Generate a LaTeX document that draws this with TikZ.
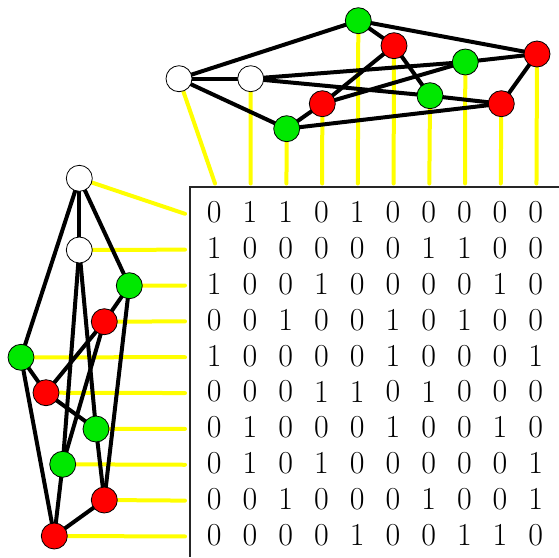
\documentclass[tikz,border=0pt]{standalone}
\usetikzlibrary{calc}
\pgfdeclarelayer{links}
\pgfdeclarelayer{edges}
\pgfsetlayers{links,edges,main}
\definecolor{vgreen}{RGB}{0,232,0}
\definecolor{vred}{RGB}{255,0,0}
\definecolor{vlink}{RGB}{255,255,0}
\tikzset{
  vtx/.style={circle, draw=black, line width=0.8pt, minimum size=26pt, inner sep=0pt},
  white vtx/.style={vtx, fill=white},
  green vtx/.style={vtx, fill=vgreen},
  red vtx/.style={vtx, fill=vred},
  edge/.style={line width=4pt, black},
  link/.style={line width=4pt, vlink, line cap=round},
  entry/.style={inner sep=0pt, anchor=center, font=\fontsize{32}{38}\selectfont},
  frame/.style={line width=1.1pt, black!85}
}
\begin{document}
\begin{tikzpicture}[x=1pt, y=-1pt]
\useasboundingbox (0,0) rectangle (559,557);

% ---- adjacency matrix ----
\draw[frame] (559,187) -- (190,187) -- (190,557);
\foreach \row [count=\r] in {
  {0,1,1,0,1,0,0,0,0,0},
  {1,0,0,0,0,0,1,1,0,0},
  {1,0,0,1,0,0,0,0,1,0},
  {0,0,1,0,0,1,0,1,0,0},
  {1,0,0,0,0,1,0,0,0,1},
  {0,0,0,1,1,0,1,0,0,0},
  {0,1,0,0,0,1,0,0,1,0},
  {0,1,0,1,0,0,0,0,0,1},
  {0,0,1,0,0,0,1,0,0,1},
  {0,0,0,0,1,0,0,1,1,0}} {
  \foreach \v [count=\c] in \row {
    \node[entry] (m-\r-\c) at ({214.3+35.72*(\c-1)}, {212.3+35.85*(\r-1)}) {\v};
  }
}

% ---- graph above the matrix (one vertex per column) ----
\node[white vtx] (t1)  at (179,78.7)  {};
\node[white vtx] (t2)  at (250.7,78.7) {};
\node[green vtx] (t3)  at (286.7,128.7) {};
\node[red vtx]   (t4)  at (322.3,103.7) {};
\node[green vtx] (t5)  at (358.3,20.7) {};
\node[red vtx]   (t6)  at (394,45.7)  {};
\node[green vtx] (t7)  at (430,95.7)  {};
\node[green vtx] (t8)  at (465.3,62)  {};
\node[red vtx]   (t9)  at (501.3,103.7) {};
\node[red vtx]   (t10) at (537,54)    {};

% ---- graph left of the matrix (one vertex per row) ----
\node[white vtx] (l1)  at (79.3,178.3) {};
\node[white vtx] (l2)  at (79.3,250)   {};
\node[green vtx] (l3)  at (129.3,285.7) {};
\node[red vtx]   (l4)  at (104.3,321.7) {};
\node[green vtx] (l5)  at (21,357.3)   {};
\node[red vtx]   (l6)  at (46,392.7)   {};
\node[green vtx] (l7)  at (96,429)     {};
\node[green vtx] (l8)  at (62.7,464.3) {};
\node[red vtx]   (l9)  at (104.3,500)  {};
\node[red vtx]   (l10) at (54.3,536)   {};

% ---- yellow leaders from vertices to their column / row ----
\foreach \c in {1,...,10} {
  \coordinate (tc\c) at ({214.3+35.72*(\c-1)+0.7}, 183.5);
  \coordinate (lc\c) at (185, {212.3+35.85*(\c-1)+1.5});
}
\begin{pgfonlayer}{links}
  \foreach \c in {1,...,10} {
    \draw[link] (t\c.center) -- (tc\c);
    \draw[link] (l\c.center) -- (lc\c);
  }
\end{pgfonlayer}

% ---- edges: the same cubic graph drawn twice ----
\begin{pgfonlayer}{edges}
  \foreach \g in {t,l} {
    \foreach \a/\b in {1/2,1/3,1/5,2/7,2/8,3/4,3/9,4/6,4/8,5/6,5/10,6/7,7/9,8/10,9/10} {
      \draw[edge] (\g\a.center) -- (\g\b.center);
    }
  }
\end{pgfonlayer}
\end{tikzpicture}
\end{document}
